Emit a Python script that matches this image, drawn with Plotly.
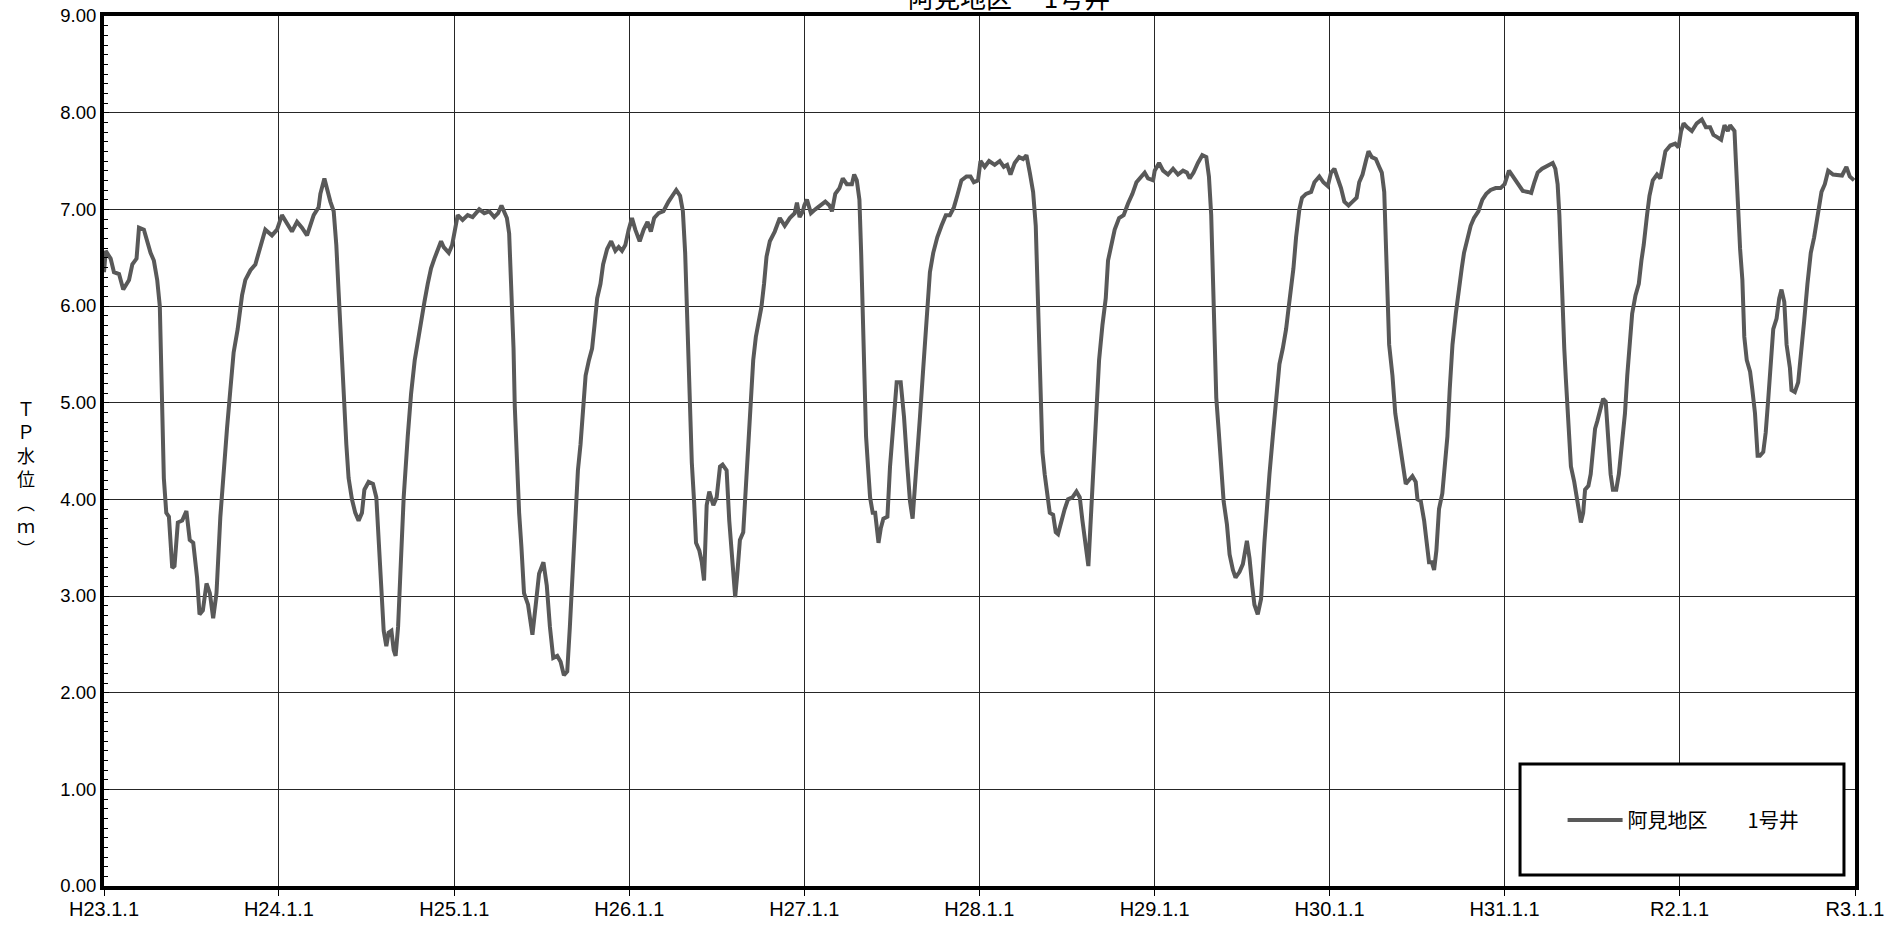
import pandas as pd
import plotly.graph_objects as go

# ---- data: decimal years and TP water level (m) ----
t_2011_12 = [2011.000, 2011.010, 2011.038, 2011.057, 2011.086, 2011.110, 2011.143, 2011.162, 2011.186, 2011.200,
             2011.228, 2011.266, 2011.285, 2011.304, 2011.319, 2011.329, 2011.342, 2011.356, 2011.371, 2011.390,
             2011.403, 2011.422, 2011.447, 2011.471, 2011.490, 2011.510, 2011.532, 2011.546, 2011.565, 2011.586,
             2011.605, 2011.624, 2011.643, 2011.665, 2011.684, 2011.703, 2011.722, 2011.741, 2011.764, 2011.789,
             2011.808, 2011.837, 2011.865, 2011.884, 2011.899, 2011.922, 2011.960, 2011.989,
             2012.017, 2012.046, 2012.074, 2012.103, 2012.131, 2012.160, 2012.179, 2012.198, 2012.226, 2012.236,
             2012.259, 2012.278, 2012.293, 2012.312, 2012.327, 2012.340, 2012.354, 2012.369, 2012.384, 2012.397,
             2012.416, 2012.435, 2012.454, 2012.473, 2012.487, 2012.511, 2012.536, 2012.555, 2012.568, 2012.582,
             2012.597, 2012.612, 2012.625, 2012.641, 2012.654, 2012.665, 2012.679, 2012.692, 2012.711, 2012.734,
             2012.753, 2012.774, 2012.791, 2012.810, 2012.829, 2012.848, 2012.867, 2012.886, 2012.905, 2012.924,
             2012.939, 2012.968, 2012.987]
v_2011_12 = [6.35, 6.57, 6.49, 6.35, 6.33, 6.17, 6.27, 6.43, 6.49, 6.81,
             6.79, 6.55, 6.47, 6.27, 6.00, 5.01, 4.22, 3.86, 3.82, 3.29,
             3.31, 3.76, 3.78, 3.88, 3.58, 3.55, 3.19, 2.81, 2.85, 3.13,
             3.03, 2.77, 3.03, 3.82, 4.34, 4.73, 5.13, 5.52, 5.76, 6.11,
             6.27, 6.37, 6.43, 6.55, 6.65, 6.79, 6.73, 6.79,
             6.94, 6.85, 6.77, 6.87, 6.81, 6.73, 6.83, 6.94, 7.02, 7.16,
             7.32, 7.18, 7.08, 6.98, 6.63, 6.15, 5.60, 5.13, 4.57, 4.22,
             4.00, 3.86, 3.78, 3.86, 4.10, 4.18, 4.16, 4.02, 3.58, 3.07,
             2.64, 2.48, 2.62, 2.64, 2.44, 2.38, 2.68, 3.23, 4.02, 4.65,
             5.09, 5.44, 5.64, 5.80, 6.04, 6.23, 6.39, 6.49, 6.59, 6.67,
             6.61, 6.55, 6.63]

t_2013_14 = [2013.000, 2013.019, 2013.047, 2013.076, 2013.104, 2013.142, 2013.171, 2013.199, 2013.228, 2013.250,
             2013.269, 2013.285, 2013.300, 2013.313, 2013.326, 2013.338, 2013.345, 2013.357, 2013.370, 2013.383,
             2013.398, 2013.421, 2013.433, 2013.446, 2013.465, 2013.484, 2013.509, 2013.528, 2013.546, 2013.565,
             2013.588, 2013.607, 2013.626, 2013.645, 2013.660, 2013.674, 2013.693, 2013.706, 2013.721, 2013.736,
             2013.750, 2013.769, 2013.787, 2013.801, 2013.816, 2013.835, 2013.850, 2013.873, 2013.896, 2013.920,
             2013.939, 2013.958, 2013.977, 2013.996,
             2014.015, 2014.034, 2014.059, 2014.082, 2014.104, 2014.123, 2014.142, 2014.167, 2014.195, 2014.224,
             2014.249, 2014.268, 2014.290, 2014.306, 2014.319, 2014.332, 2014.343, 2014.357, 2014.370, 2014.381,
             2014.400, 2014.414, 2014.427, 2014.442, 2014.457, 2014.480, 2014.499, 2014.518, 2014.533, 2014.556,
             2014.571, 2014.590, 2014.605, 2014.617, 2014.632, 2014.651, 2014.666, 2014.679, 2014.693, 2014.708,
             2014.723, 2014.736, 2014.755, 2014.770, 2014.784, 2014.803, 2014.831, 2014.860, 2014.888, 2014.917,
             2014.945, 2014.958, 2014.973, 2014.992]
v_2013_14 = [6.77, 6.94, 6.89, 6.94, 6.92, 7.00, 6.96, 6.98, 6.92, 6.96,
             7.04, 6.96, 6.91, 6.75, 6.23, 5.56, 4.97, 4.38, 3.86, 3.51,
             3.03, 2.91, 2.75, 2.60, 2.91, 3.23, 3.35, 3.11, 2.68, 2.36,
             2.38, 2.32, 2.18, 2.22, 2.68, 3.19, 3.78, 4.30, 4.57, 4.89,
             5.28, 5.44, 5.56, 5.80, 6.08, 6.23, 6.43, 6.59, 6.67, 6.57,
             6.61, 6.57, 6.63, 6.79,
             6.91, 6.79, 6.67, 6.79, 6.87, 6.77, 6.91, 6.96, 6.98, 7.08,
             7.14, 7.20, 7.14, 6.98, 6.55, 5.76, 4.97, 4.38, 3.98, 3.55,
             3.47, 3.35, 3.16, 3.94, 4.08, 3.94, 4.02, 4.34, 4.36, 4.30,
             3.78, 3.31, 2.99, 3.23, 3.58, 3.66, 4.18, 4.57, 4.97, 5.44,
             5.68, 5.80, 5.99, 6.23, 6.51, 6.67, 6.77, 6.91, 6.83, 6.91,
             6.96, 7.07, 6.92, 6.98]

t_2015_16 = [2015.000, 2015.015, 2015.038, 2015.063, 2015.091, 2015.120, 2015.144, 2015.158, 2015.177, 2015.201,
             2015.220, 2015.243, 2015.272, 2015.285, 2015.300, 2015.315, 2015.325, 2015.334, 2015.344, 2015.353,
             2015.367, 2015.376, 2015.391, 2015.405, 2015.424, 2015.437, 2015.452, 2015.475, 2015.490, 2015.509,
             2015.528, 2015.551, 2015.570, 2015.589, 2015.604, 2015.619, 2015.632, 2015.646, 2015.661, 2015.680,
             2015.699, 2015.718, 2015.737, 2015.760, 2015.784, 2015.809, 2015.832, 2015.855, 2015.874, 2015.898,
             2015.927, 2015.950, 2015.969, 2015.993,
             2016.007, 2016.031, 2016.056, 2016.088, 2016.117, 2016.140, 2016.159, 2016.178, 2016.202, 2016.227,
             2016.250, 2016.269, 2016.288, 2016.307, 2016.322, 2016.331, 2016.341, 2016.350, 2016.360, 2016.373,
             2016.387, 2016.402, 2016.421, 2016.436, 2016.449, 2016.468, 2016.487, 2016.506, 2016.531, 2016.554,
             2016.573, 2016.588, 2016.607, 2016.622, 2016.633, 2016.649, 2016.664, 2016.683, 2016.702, 2016.721,
             2016.734, 2016.753, 2016.772, 2016.797, 2016.823, 2016.848, 2016.873, 2016.896, 2016.918, 2016.943,
             2016.962, 2016.991]
v_2015_16 = [7.04, 7.10, 6.96, 7.00, 7.04, 7.08, 7.04, 6.98, 7.16, 7.22,
             7.32, 7.26, 7.26, 7.36, 7.30, 7.10, 6.55, 5.96, 5.28, 4.65,
             4.26, 4.02, 3.86, 3.86, 3.55, 3.70, 3.80, 3.82, 4.34, 4.77,
             5.21, 5.21, 4.85, 4.34, 3.98, 3.80, 4.10, 4.45, 4.85, 5.36,
             5.92, 6.35, 6.55, 6.71, 6.83, 6.94, 6.94, 7.02, 7.14, 7.30,
             7.34, 7.34, 7.28, 7.30,
             7.50, 7.44, 7.50, 7.46, 7.50, 7.44, 7.46, 7.36, 7.48, 7.54,
             7.52, 7.56, 7.38, 7.18, 6.83, 6.23, 5.56, 4.97, 4.49, 4.26,
             4.06, 3.86, 3.84, 3.66, 3.64, 3.78, 3.90, 4.00, 4.02, 4.08,
             4.02, 3.78, 3.51, 3.31, 3.70, 4.26, 4.97, 5.44, 5.80, 6.08,
             6.47, 6.63, 6.79, 6.91, 6.94, 7.06, 7.16, 7.28, 7.32, 7.38,
             7.32, 7.30]

t_2017_18 = [2017.000, 2017.025, 2017.048, 2017.076, 2017.105, 2017.133, 2017.162, 2017.184, 2017.200, 2017.222,
             2017.247, 2017.272, 2017.295, 2017.310, 2017.323, 2017.333, 2017.342, 2017.352, 2017.365, 2017.380,
             2017.394, 2017.413, 2017.428, 2017.447, 2017.462, 2017.485, 2017.504, 2017.527, 2017.542, 2017.557,
             2017.570, 2017.589, 2017.608, 2017.627, 2017.641, 2017.656, 2017.675, 2017.694, 2017.713, 2017.732,
             2017.751, 2017.766, 2017.779, 2017.793, 2017.808, 2017.827, 2017.842, 2017.865, 2017.894, 2017.913,
             2017.941, 2017.964, 2017.989,
             2018.008, 2018.027, 2018.046, 2018.065, 2018.084, 2018.108, 2018.131, 2018.154, 2018.169, 2018.188,
             2018.207, 2018.222, 2018.241, 2018.264, 2018.283, 2018.298, 2018.312, 2018.321, 2018.331, 2018.340,
             2018.359, 2018.375, 2018.388, 2018.407, 2018.420, 2018.435, 2018.454, 2018.473, 2018.492, 2018.502,
             2018.521, 2018.540, 2018.553, 2018.568, 2018.584, 2018.597, 2018.610, 2018.625, 2018.644, 2018.660,
             2018.673, 2018.686, 2018.702, 2018.721, 2018.740, 2018.755, 2018.768, 2018.787, 2018.806, 2018.825,
             2018.850, 2018.873, 2018.895, 2018.920, 2018.949, 2018.977]
v_2017_18 = [7.40, 7.48, 7.40, 7.36, 7.42, 7.36, 7.40, 7.38, 7.32, 7.38,
             7.48, 7.56, 7.54, 7.34, 6.94, 6.35, 5.68, 5.05, 4.73, 4.26,
             3.98, 3.74, 3.43, 3.27, 3.19, 3.25, 3.33, 3.57, 3.39, 3.11,
             2.91, 2.81, 2.97, 3.55, 3.94, 4.26, 4.65, 5.05, 5.40, 5.56,
             5.76, 5.99, 6.15, 6.39, 6.71, 7.00, 7.12, 7.16, 7.18, 7.28,
             7.34, 7.28, 7.24,
             7.38, 7.42, 7.32, 7.22, 7.08, 7.04, 7.08, 7.12, 7.28, 7.36,
             7.50, 7.60, 7.54, 7.52, 7.44, 7.38, 7.18, 6.75, 6.15, 5.60,
             5.28, 4.89, 4.73, 4.49, 4.34, 4.16, 4.20, 4.24, 4.18, 4.00,
             3.98, 3.78, 3.58, 3.35, 3.35, 3.27, 3.47, 3.90, 4.06, 4.34,
             4.65, 5.13, 5.60, 5.92, 6.23, 6.39, 6.55, 6.71, 6.83, 6.91,
             6.98, 7.10, 7.16, 7.20, 7.22, 7.22]

t_2019_20 = [2019.000, 2019.025, 2019.047, 2019.076, 2019.104, 2019.133, 2019.152, 2019.170, 2019.189, 2019.214,
             2019.237, 2019.256, 2019.275, 2019.290, 2019.303, 2019.313, 2019.322, 2019.331, 2019.341, 2019.350,
             2019.360, 2019.369, 2019.379, 2019.398, 2019.417, 2019.426, 2019.436, 2019.449, 2019.460, 2019.479,
             2019.492, 2019.502, 2019.517, 2019.530, 2019.549, 2019.563, 2019.578, 2019.593, 2019.606, 2019.619,
             2019.638, 2019.653, 2019.672, 2019.688, 2019.701, 2019.714, 2019.729, 2019.748, 2019.767, 2019.782,
             2019.795, 2019.814, 2019.828, 2019.847, 2019.871, 2019.890, 2019.903, 2019.919, 2019.947, 2019.975,
             2019.994,
             2020.009, 2020.023, 2020.042, 2020.070, 2020.098, 2020.127, 2020.150, 2020.174, 2020.193, 2020.212,
             2020.237, 2020.256, 2020.275, 2020.288, 2020.313, 2020.320, 2020.331, 2020.345, 2020.358, 2020.369,
             2020.383, 2020.402, 2020.415, 2020.430, 2020.445, 2020.458, 2020.477, 2020.491, 2020.506, 2020.521,
             2020.534, 2020.553, 2020.568, 2020.581, 2020.597, 2020.610, 2020.629, 2020.638, 2020.657, 2020.676,
             2020.695, 2020.710, 2020.729, 2020.748, 2020.767, 2020.786, 2020.809, 2020.828, 2020.847, 2020.875,
             2020.903, 2020.926, 2020.951, 2020.970, 2020.995]
v_2019_20 = [7.26, 7.40, 7.34, 7.26, 7.19, 7.18, 7.17, 7.28, 7.38, 7.42,
             7.44, 7.46, 7.48, 7.42, 7.26, 6.94, 6.43, 5.96, 5.56, 5.25,
             4.97, 4.65, 4.34, 4.18, 3.98, 3.86, 3.76, 3.86, 4.10, 4.14,
             4.26, 4.45, 4.73, 4.81, 4.97, 5.04, 5.01, 4.57, 4.26, 4.10,
             4.10, 4.26, 4.57, 4.89, 5.28, 5.60, 5.92, 6.11, 6.23, 6.47,
             6.63, 6.94, 7.14, 7.30, 7.36, 7.32, 7.46, 7.60, 7.66, 7.68,
             7.64,
             7.81, 7.89, 7.85, 7.81, 7.89, 7.93, 7.85, 7.85, 7.77, 7.75,
             7.72, 7.87, 7.81, 7.87, 7.81, 7.54, 7.10, 6.59, 6.27, 5.68,
             5.44, 5.32, 5.13, 4.89, 4.45, 4.45, 4.49, 4.69, 5.05, 5.44,
             5.76, 5.87, 6.08, 6.17, 6.04, 5.60, 5.36, 5.13, 5.11, 5.21,
             5.52, 5.84, 6.23, 6.55, 6.71, 6.94, 7.18, 7.26, 7.40, 7.36,
             7.35, 7.35, 7.44, 7.34, 7.30]

tick_years = [2011, 2012, 2013, 2014, 2015, 2016, 2017, 2018, 2019, 2020, 2021]
tick_labels = ["H23.1.1", "H24.1.1", "H25.1.1", "H26.1.1", "H27.1.1", "H28.1.1",
               "H29.1.1", "H30.1.1", "H31.1.1", "R2.1.1", "R3.1.1"]

series_name = "阿見地区　　1号井"
title_text = "阿見地区　 1号井"
y_title = "Ｔ<br>Ｐ<br>水<br>位<br>︵<br>ｍ<br>︶"


def to_date(y):
    yi = int(y)
    start = pd.Timestamp(yi, 1, 1)
    end = pd.Timestamp(yi + 1, 1, 1)
    return start + (end - start) * (y - yi)


years = t_2011_12 + t_2013_14 + t_2015_16 + t_2017_18 + t_2019_20
levels = v_2011_12 + v_2013_14 + v_2015_16 + v_2017_18 + v_2019_20
dates = [to_date(y) for y in years]
tick_dates = [pd.Timestamp(y, 1, 1) for y in tick_years]

FONT = "Liberation Sans, Arial, Noto Sans CJK JP, sans-serif"
JFONT = "Noto Sans CJK JP, sans-serif"

fig = go.Figure()
fig.add_trace(go.Scatter(
    x=dates, y=levels, mode="lines", name=series_name,
    line=dict(color="#595959", width=4),
))

fig.update_layout(
    width=1894, height=926,
    margin=dict(l=104, r=39, t=16, b=40),
    paper_bgcolor="white", plot_bgcolor="white",
    font=dict(family=FONT, size=18, color="black"),
    showlegend=True,
    legend=dict(
        x=0.833, y=0.0759, xanchor="left", yanchor="middle",
        bgcolor="rgba(0,0,0,0)", borderwidth=0, itemwidth=55,
        font=dict(family=JFONT, size=20, color="black"),
    ),
    xaxis=dict(
        type="date", automargin=False,
        range=[tick_dates[0], tick_dates[-1]],
        tickvals=tick_dates, ticktext=tick_labels,
        showgrid=True, gridcolor="#262626", gridwidth=1,
        showline=True, linecolor="black", linewidth=4, mirror=True,
        ticks="outside", ticklen=6, tickcolor="black", tickwidth=1,
        ticklabelstandoff=-4,
        tickfont=dict(size=20), zeroline=False,
    ),
    yaxis=dict(
        automargin=False,
        range=[0, 9], dtick=1, tick0=0, tickformat=".2f",
        showgrid=True, gridcolor="#262626", gridwidth=1,
        showline=True, linecolor="black", linewidth=4, mirror=True,
        ticks="inside", ticklen=5, tickcolor="black", tickwidth=1,
        ticklabelstandoff=0,
        minor=dict(dtick=0.1, ticks="inside", ticklen=4, tickcolor="black", showgrid=False),
        tickfont=dict(size=18.5), zeroline=False,
    ),
    shapes=[dict(
        type="rect", xref="paper", yref="paper",
        x0=0.8087, x1=0.9937, y0=0.0126, y1=0.1402,
        line=dict(color="black", width=3), fillcolor="white", layer="above",
    )],
    annotations=[
        dict(text=title_text, xref="paper", yref="paper", x=0.517, y=1.0,
             xanchor="center", yanchor="bottom", yshift=-1, showarrow=False,
             font=dict(family=JFONT, size=26, color="black")),
        dict(text=y_title, xref="paper", yref="paper", x=-0.0445, y=0.469,
             xanchor="center", yanchor="middle", showarrow=False,
             font=dict(family=JFONT, size=18, color="black")),
    ],
)

fig.write_html("out.html", config={"displayModeBar": False},
               post_script="document.body.style.margin='0';document.body.style.overflow='hidden';")
